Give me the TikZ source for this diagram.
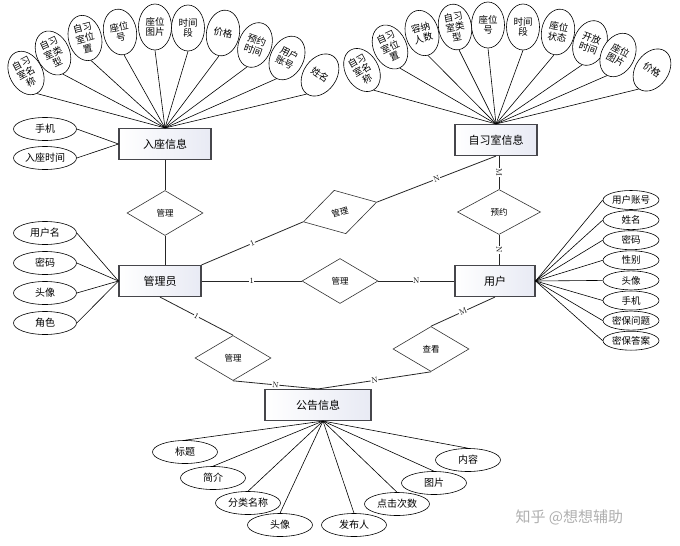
\documentclass[tikz,border=0pt]{standalone}
\usepackage{fontspec}
\usepackage{tikz}
\usetikzlibrary{shapes.geometric, positioning}
\newfontfamily\cjk{Noto Sans CJK SC}
\definecolor{boxline}{RGB}{70,70,75}
\definecolor{boxfill}{RGB}{232,234,244}
\definecolor{wmgray}{RGB}{175,175,175}

\begin{document}
\begin{tikzpicture}[x=1pt, y=-1pt, font=\cjk,
    entity/.style={draw=boxline, line width=1.1pt, left color=white, right color=boxfill,
                   minimum width=#1, minimum height=31, font=\cjk\fontsize{11}{12}\selectfont},
    entity/.default=82,
    rel/.style={draw=black!80, diamond, line width=0.6pt, fill=white, inner sep=0pt,
                minimum width=76, minimum height=45, font=\cjk\fontsize{8.5}{9}\selectfont},
    attr/.style={draw, ellipse, line width=0.6pt, fill=white, inner sep=0pt,
                 minimum width=#1, minimum height=23, font=\cjk\fontsize{10}{11}\selectfont},
    attr/.default=63,
    fan/.style={draw, ellipse, line width=0.6pt, fill=white, inner sep=0pt, align=center,
                minimum width=33, minimum height=46, rotate=#1,
                font=\cjk\fontsize{9.5}{10.5}\selectfont},
    lab/.style={fill=white, inner sep=0.6pt, sloped, font=\fontsize{8}{9}\selectfont},
    link/.style={draw=black!85, line width=0.8pt},
    every edge/.style={link}]

  \useasboundingbox (0,0) rectangle (680,546);

  % Entités
  \node[entity=92] (ruzuo) at (165,144) {入座信息};
  \node[entity] (zixi) at (496,140) {自习室信息};
  \node[entity] (guanli) at (160,281) {管理员};
  \node[entity=80] (yonghu) at (495,281) {用户};
  \node[entity=106] (gonggao) at (318,405) {公告信息};

  % Relations
  \node[rel] (gl1) at (165,213) {管理};
  \node[rel, rotate=15] (gl2) at (340,212) {管理};
  \node[rel] (gl3) at (340,281) {管理};
  \node[rel] (gl4) at (233,358) {管理};
  \node[rel, minimum width=83] (yy) at (499,212) {预约};
  \node[rel] (ck) at (431,349) {查看};

  % Attributs de 入座信息
  \node[fan=28] (r1) at (26,73) {自习\\室名\\称};
  \node[fan=25] (r2) at (53,53) {自习\\室类\\型};
  \node[fan=15] (r3) at (85,38) {自习\\室位\\置};
  \node[fan=10] (r4) at (120,32) {座位\\号};
  \node[fan=0] (r5) at (155,27) {座位\\图片};
  \node[fan=0] (r6) at (188,28) {时间\\段};
  \node[fan=-10] (r7) at (223,33) {价格};
  \node[fan=-20] (r8) at (255,45) {预约\\时间};
  \node[fan=-27] (r9) at (287,58) {用户\\账号};
  \node[fan=-35] (r10) at (320,75) {姓名};
  \foreach \i in {1,...,10}
    \draw[line width=0.6pt] (ruzuo.north) -- (r\i.south);
  \node[attr] (r11) at (45,129) {手机};
  \node[attr] (r12) at (45,158) {入座时间};
  \foreach \i in {11,12}
    \draw[line width=0.6pt] (ruzuo.west) -- (r\i.east);

  % Attributs de 自习室信息
  \node[fan=30] (z1) at (362,70) {自习\\室名\\称};
  \node[fan=25] (z2) at (390,47) {自习\\室位\\置};
  \node[fan=15] (z3) at (422,33) {容纳\\人数};
  \node[fan=10] (z4) at (455,27) {自习\\室类\\型};
  \node[fan=0] (z5) at (488,25) {座位\\号};
  \node[fan=0] (z6) at (523,27) {时间\\段};
  \node[fan=-10] (z7) at (558,32) {座位\\状态};
  \node[fan=-20] (z8) at (590,43) {开放\\时间};
  \node[fan=-28] (z9) at (618,55) {座位\\图片};
  \node[fan=-35] (z10) at (652,70) {价格};
  \foreach \i in {1,...,10}
    \draw[line width=0.6pt] (zixi.north) -- (z\i.south);

  % Attributs de 管理员
  \node[attr] (g1) at (45,233) {用户名};
  \node[attr] (g2) at (45,263) {密码};
  \node[attr] (g3) at (45,293) {头像};
  \node[attr] (g4) at (45,323) {角色};
  \foreach \i in {1,...,4}
    \draw[line width=0.6pt] (guanli.west) -- (g\i.east);

  % Attributs de 用户
  \foreach \t [count=\i] in {用户账号,姓名,密码,性别,头像,手机,密保问题,密保答案} {
    \node[attr=56, minimum height=19, font=\cjk\fontsize{9.5}{10}\selectfont]
      (u\i) at (631,{200+20.1*(\i-1)}) {\t};
    \draw[line width=0.6pt] (yonghu.east) -- (u\i.west);
  }

  % Attributs de 公告信息
  \coordinate (gg) at ([xshift=5]gonggao.south);
  \node[attr=65] (p1) at (185,452) {标题};
  \node[attr=65] (p2) at (213,478) {简介};
  \node[attr=65] (p3) at (248,503) {分类名称};
  \node[attr=65] (p4) at (280,525) {头像};
  \node[attr=65] (p5) at (354,525) {发布人};
  \node[attr=65] (p6) at (397,504) {点击次数};
  \node[attr=65] (p7) at (434,483) {图片};
  \node[attr=65] (p8) at (468,460) {内容};
  \foreach \i in {1,...,8}
    \draw[line width=0.6pt] (gg) -- (p\i.north);

  % Liens entre entités et relations
  \path (ruzuo.south) edge (gl1.north);
  \path (gl1.south) edge (gl1.south |- guanli.north);
  \path (guanli.north east) edge node[lab] {1} (gl2.west);
  \path (gl2.east) edge node[lab] {N} (zixi.south);
  \path (yy.north |- zixi.south) edge node[lab] {M} (yy.north);
  \path (yy.south) edge node[lab] {N} (yy.south |- yonghu.north);
  \path (guanli.east) edge node[lab] {1} (gl3.west);
  \path (gl3.east) edge node[lab] {N} (yonghu.west);
  \path (guanli.south) edge node[lab] {1} (gl4.north);
  \path (gl4.south) edge node[lab] {N} (gonggao.north);
  \path (yonghu.south) edge node[lab] {M} (ck.north);
  \path (ck.south) edge node[lab] {N} (gonggao.north);

  % Filigrane
  \node[text=wmgray, font=\cjk\fontsize{15}{16}\selectfont, anchor=west] (wm) at (512,517) {知乎 @想想辅助};
\end{tikzpicture}
\end{document}
